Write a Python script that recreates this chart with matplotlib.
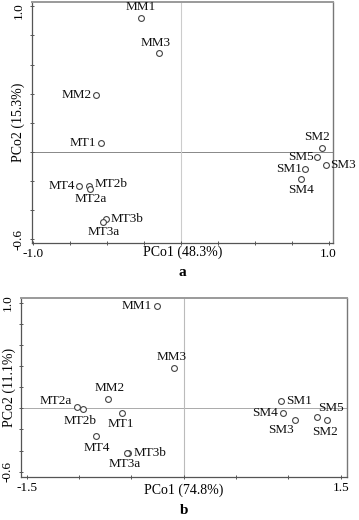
"""
PCoA ordination plots (panels a and b)
"""
import numpy as np
import matplotlib
matplotlib.use('Agg')
import matplotlib.pyplot as plt
from matplotlib.transforms import ScaledTranslation

plt.rcParams['font.family'] = ['Liberation Serif', 'DejaVu Serif']

# ---- panel a data ----
names_a = ['MM1', 'MM3', 'MM2', 'MT1', 'MT4', 'MT2b', 'MT2a', 'MT3b', 'MT3a',
           'SM2', 'SM5', 'SM3', 'SM1', 'SM4']
pco1_a = [-0.27, -0.151, -0.574, -0.543, -0.694, -0.622, -0.619, -0.511, -0.527,
          0.953, 0.921, 0.984, 0.842, 0.815]
pco2_a = [0.923, 0.679, 0.391, 0.064, -0.231, -0.231, -0.251, -0.459, -0.48,
          0.030, -0.032, -0.089, -0.114, -0.187]
xlabel_a = 'PCo1 (48.3%)'
ylabel_a = 'PCo2 (15.3%)'
xticks_a = [-1.0, -0.75, -0.5, -0.25, 0.0, 0.25, 0.5, 0.75, 1.0]
xticklabels_a = ['-1.0', '', '', '', '', '', '', '', '1.0']
yticks_a = [-0.6, -0.4, -0.2, 0.0, 0.2, 0.4, 0.6, 0.8, 1.0]
yticklabels_a = ['-0.6', '', '', '', '', '', '', '', '1.0']

# ---- panel b data ----
names_b = ['MM1', 'MM3', 'MM2', 'MT2a', 'MT2b', 'MT1', 'MT4', 'MT3b', 'MT3a',
           'SM1', 'SM4', 'SM3', 'SM5', 'SM2']
pco1_b = [-0.26, -0.092, -0.727, -1.019, -0.959, -0.59, -0.835, -0.537, -0.546,
          0.93, 0.952, 1.06, 1.276, 1.365]
pco2_b = [0.968, 0.379, 0.088, 0.009, -0.006, -0.041, -0.259, -0.42, -0.426,
          0.069, -0.044, -0.107, -0.085, -0.107]
xlabel_b = 'PCo1 (74.8%)'
ylabel_b = 'PCo2 (11.1%)'
xticks_b = [-1.5, -1.0, -0.5, 0.0, 0.5, 1.0, 1.5]
xticklabels_b = ['-1.5', '', '', '', '', '', '1.5']
yticks_b = yticks_a
yticklabels_b = yticklabels_a

# label placement: (dx px, dy px, ha)
offs_a = {
    'MM1': (0, 11, 'center'), 'MM3': (-3, 10, 'center'), 'MM2': (-5, 0, 'right'),
    'MT1': (-5, 0, 'right'), 'MT4': (-4, 0, 'right'), 'MT2b': (5, 1.5, 'left'),
    'MT2a': (1, -10, 'center'), 'MT3b': (5, 0, 'left'), 'MT3a': (0, -10, 'center'),
    'SM2': (-5, 11, 'center'), 'SM5': (-3, 0, 'right'), 'SM3': (4, 0, 'left'),
    'SM1': (-3, 0, 'right'), 'SM4': (0, -11, 'center'),
}
offs_b = {
    'MM1': (-5, 0, 'right'), 'MM3': (-3, 11, 'center'), 'MM2': (2, 11, 'center'),
    'MT2a': (-5, 6, 'right'), 'MT2b': (-3, -12, 'center'), 'MT1': (-1, -11, 'center'),
    'MT4': (0, -12, 'center'), 'MT3b': (6, 0, 'left'), 'MT3a': (-2, -11, 'center'),
    'SM1': (5, 0, 'left'), 'SM4': (-5, 0, 'right'), 'SM3': (-14, -10, 'center'),
    'SM5': (14, 9, 'center'), 'SM2': (-2, -12, 'center'),
}

W, H = 359, 520
fig = plt.figure(figsize=(W / 100, H / 100), dpi=100)


def px2pt(v):
    return v * 72 / 100


def draw_panel(rect, xs, ys, names, offs, xlim, ylim, xticks, xtl, yticks, ytl,
               xlab, ylab, letter, xlab_y, ylab_x, letter_y, hline_c, vline_c,
               top_shift=0):
    ax = fig.add_axes(rect)
    ax.axhline(0, color=hline_c, lw=0.7, zorder=1)
    ax.axvline(0, color=vline_c, lw=0.8, zorder=1)
    ax.plot(xs, ys, 'o', ms=4.2, mfc='white', mec='#444444', mew=0.8, zorder=3)
    for x, y, n in zip(xs, ys, names):
        dx, dy, ha = offs[n]
        ax.annotate(n, (x, y), xytext=(px2pt(dx), px2pt(dy)),
                    textcoords='offset points', ha=ha, va='center',
                    fontsize=9.5, color='#111111')
    ax.set_xlim(*xlim)
    ax.set_ylim(*ylim)
    ax.set_xticks(xticks)
    ax.set_xticklabels(xtl)
    ax.set_yticks(yticks)
    ax.set_yticklabels(ytl)
    ax.tick_params(direction='inout', length=3, width=0.7, color='#555555',
                   labelsize=9.5, pad=2)
    ax.tick_params(axis='y', pad=4)
    ylbls = ax.get_yticklabels()
    for lbl in ylbls:
        lbl.set_rotation(90)
        lbl.set_va('center')
    if top_shift:
        # nudge the top label down so it stays inside the figure
        top = ylbls[-1]
        top.set_transform(top.get_transform() +
                          ScaledTranslation(0, -top_shift / 100, fig.dpi_scale_trans))
    ax.spines['left'].set_color('#555555')
    ax.spines['bottom'].set_color('#555555')
    ax.spines['left'].set_linewidth(0.9)
    ax.spines['bottom'].set_linewidth(0.9)
    ax.spines['top'].set_color('#9a9a9a')
    ax.spines['top'].set_linewidth(1.4)
    ax.spines['right'].set_color('#777777')
    ax.spines['right'].set_linewidth(1.0)
    fig.text(0.5 * (rect[0] * 2 + rect[2]), xlab_y, xlab, ha='center', va='center',
             fontsize=10)
    fig.text(ylab_x, rect[1] + rect[3] / 2, ylab, ha='center', va='center',
             rotation=90, fontsize=10)
    fig.text(0.5 * (rect[0] * 2 + rect[2]), letter_y, letter, ha='center', va='center',
             fontsize=11, fontweight='bold')
    return ax


# panel a
l, r, t, b = 32, 333, 2, 243
draw_panel([l / W, 1 - b / H, (r - l) / W, (b - t) / H],
           pco1_a, pco2_a, names_a, offs_a, (-1.01, 1.03), (-0.625, 1.03),
           xticks_a, xticklabels_a, yticks_a, yticklabels_a,
           xlabel_a, ylabel_a, 'a', 1 - 252 / H, 18 / W, 1 - 273 / H,
           '#888888', '#cccccc', top_shift=4)

# panel b
l, r, t, b = 21, 347, 298, 477
draw_panel([l / W, 1 - b / H, (r - l) / W, (b - t) / H],
           pco1_b, pco2_b, names_b, offs_b, (-1.555, 1.56), (-0.65, 1.044),
           xticks_b, xticklabels_b, yticks_b, yticklabels_b,
           xlabel_b, ylabel_b, 'b', 1 - 490 / H, 9 / W, 1 - 510 / H,
           '#aaaaaa', '#bbbbbb')

fig.savefig('out.png', dpi=100)
